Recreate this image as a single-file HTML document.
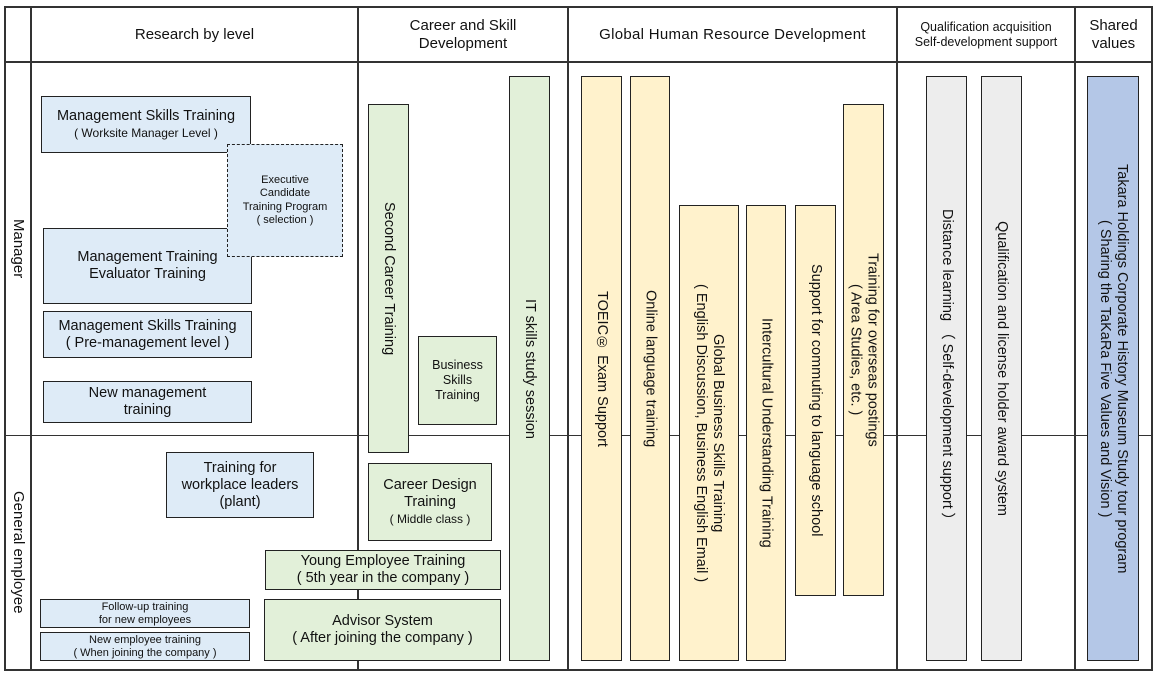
<!DOCTYPE html>
<html><head><meta charset="utf-8"><style>
body{margin:0;width:1157px;height:676px;background:#fff;position:relative;overflow:hidden;font-family:"Liberation Sans","DejaVu Sans",sans-serif;color:#111}
.l{position:absolute;background:#333}
.b{position:absolute;box-sizing:border-box;border:1px solid #222;display:flex;align-items:center;justify-content:center;text-align:center;font-size:14.5px;line-height:17px}
.v{writing-mode:vertical-rl}
.bl{background:#deebf7}.gr{background:#e2f0d9}.ye{background:#fff2cc}.gy{background:#ededed}.sv{background:#b4c7e7}
.s{font-size:12px;line-height:14px}
.h{position:absolute;display:flex;align-items:center;justify-content:center;text-align:center;font-size:15px;line-height:18px}
</style></head><body>
<div class="l" style="left:5px;top:6px;width:1148px;height:2px"></div>
<div class="l" style="left:5px;top:61px;width:1148px;height:2px"></div>
<div class="l" style="left:5px;top:435px;width:1148px;height:1px"></div>
<div class="l" style="left:5px;top:669px;width:1148px;height:2px"></div>
<div class="l" style="left:4px;top:6px;width:2px;height:665px"></div>
<div class="l" style="left:30px;top:6px;width:2px;height:665px"></div>
<div class="l" style="left:357px;top:6px;width:2px;height:665px"></div>
<div class="l" style="left:567px;top:6px;width:2px;height:665px"></div>
<div class="l" style="left:896px;top:6px;width:2px;height:665px"></div>
<div class="l" style="left:1074px;top:6px;width:2px;height:665px"></div>
<div class="l" style="left:1151px;top:6px;width:2px;height:665px"></div>
<div class="h" style="left:32px;top:8px;width:325px;height:53px">Research by level</div>
<div class="h" style="left:359px;top:8px;width:208px;height:53px">Career and Skill<br>Development</div>
<div class="h" style="left:569px;top:8px;width:327px;height:53px;letter-spacing:0.3px">Global Human Resource Development</div>
<div class="h" style="left:898px;top:8px;width:176px;height:53px;font-size:12.5px;line-height:15px">Qualification acquisition<br>Self-development support</div>
<div class="h" style="left:1076px;top:8px;width:75px;height:53px">Shared<br>values</div>
<div class="h v" style="left:6px;top:63px;width:24px;height:372px">Manager</div>
<div class="h v" style="left:6px;top:436px;width:24px;height:233px">General employee</div>
<div class="b bl" style="left:41px;top:96px;width:210px;height:57px"><div>Management Skills Training<br><span class="s">( Worksite Manager Level )</span></div></div>
<div class="b bl" style="left:43px;top:228px;width:209px;height:76px"><div>Management Training<br>Evaluator Training</div></div>
<div class="b bl s" style="left:227px;top:144px;width:116px;height:113px;border:1px dashed #222;font-size:11px;line-height:13.5px"><div>Executive<br>Candidate<br>Training Program<br>( selection )</div></div>
<div class="b bl" style="left:43px;top:311px;width:209px;height:47px"><div>Management Skills Training<br>( Pre-management level )</div></div>
<div class="b bl" style="left:43px;top:381px;width:209px;height:42px"><div>New management<br>training</div></div>
<div class="b bl" style="left:166px;top:452px;width:148px;height:66px"><div>Training for<br>workplace leaders<br>(plant)</div></div>
<div class="b bl" style="left:40px;top:599px;width:210px;height:29px;font-size:11px;line-height:13px"><div>Follow-up training<br>for new employees</div></div>
<div class="b bl" style="left:40px;top:632px;width:210px;height:29px;font-size:11px;line-height:13px"><div>New employee training<br>( When joining the company )</div></div>
<div class="b gr v" style="left:368px;top:104px;width:41px;height:349px">Second Career Training</div>
<div class="b gr s" style="left:418px;top:336px;width:79px;height:89px;font-size:12.5px;line-height:15px"><div>Business<br>Skills<br>Training</div></div>
<div class="b gr" style="left:368px;top:463px;width:124px;height:78px"><div>Career Design<br>Training<br><span class="s">( Middle class )</span></div></div>
<div class="b gr" style="left:265px;top:550px;width:236px;height:40px"><div>Young Employee Training<br>( 5th year in the company )</div></div>
<div class="b gr" style="left:264px;top:599px;width:237px;height:62px"><div>Advisor System<br>( After joining the company )</div></div>
<div class="b gr v" style="left:509px;top:76px;width:41px;height:585px">IT skills study session</div>
<div class="b ye v" style="left:581px;top:76px;width:41px;height:585px">TOEIC® Exam Support</div>
<div class="b ye v" style="left:630px;top:76px;width:40px;height:585px">Online language training</div>
<div class="b ye v" style="left:679px;top:205px;width:60px;height:456px"><div>Global Business Skills Training<br>( English Discussion, Business English Email )</div></div>
<div class="b ye v" style="left:746px;top:205px;width:40px;height:456px">Intercultural Understanding Training</div>
<div class="b ye v" style="left:795px;top:205px;width:41px;height:391px">Support for commuting to language school</div>
<div class="b ye v" style="left:843px;top:104px;width:41px;height:492px"><div>Training for overseas postings<br>( Area Studies, etc. )</div></div>
<div class="b gy v" style="left:926px;top:76px;width:41px;height:585px">Distance learning （ Self-development support ）</div>
<div class="b gy v" style="left:981px;top:76px;width:41px;height:585px">Qualification and license holder award system</div>
<div class="b sv v" style="left:1087px;top:76px;width:52px;height:585px"><div>Takara Holdings Corporate History Museum Study tour program<br>( Sharing the TaKaRa Five Values and Vision )</div></div>
</body></html>
